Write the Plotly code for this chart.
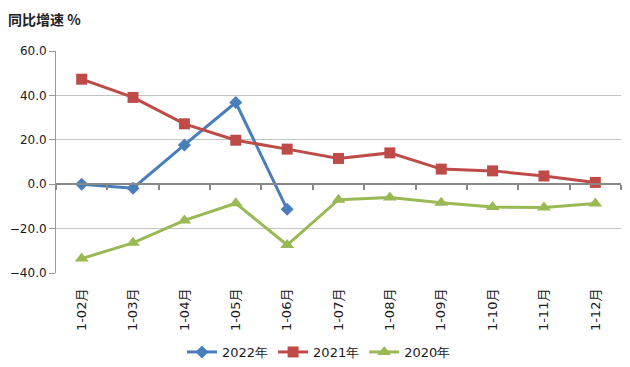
import plotly.graph_objects as go

categories = ["1-02月", "1-03月", "1-04月", "1-05月", "1-06月", "1-07月",
              "1-08月", "1-09月", "1-10月", "1-11月", "1-12月"]
y2022 = [0.0, -1.8, 17.7, 36.8, -11.3]
y2021 = [47.3, 39.1, 27.2, 19.8, 15.8, 11.6, 14.1, 6.8, 6.0, 3.7, 0.8]
y2020 = [-33.5, -26.4, -16.3, -8.6, -27.4, -7.0, -6.0, -8.4, -10.3, -10.5, -8.7]
y_ticks = [-40, -20, 0, 20, 40, 60]

fig = go.Figure()
fig.add_trace(go.Scatter(x=categories[:len(y2022)], y=y2022, name="2022年", mode="lines+markers",
                         line=dict(color="#4A7EBB", width=3),
                         marker=dict(symbol="diamond", size=10, color="#4A7EBB")))
fig.add_trace(go.Scatter(x=categories, y=y2021, name="2021年", mode="lines+markers",
                         line=dict(color="#BE4B48", width=3),
                         marker=dict(symbol="square", size=11, color="#BE4B48")))
fig.add_trace(go.Scatter(x=categories, y=y2020, name="2020年", mode="lines+markers",
                         line=dict(color="#98B954", width=3),
                         marker=dict(symbol="triangle-up", size=12, color="#98B954")))

boundaries = [i - 0.5 for i in range(len(categories) + 1)]

W, H = 622, 359  # page body has an 8px default margin

fig.update_layout(
    width=W, height=H,
    margin=dict(l=48, r=9, t=43, b=94, autoexpand=False),
    paper_bgcolor="white", plot_bgcolor="white",
    font=dict(family="DejaVu Sans, Verdana, sans-serif", color="#1a1a1a", size=12),
    title=dict(text="<b>同比增速 %</b>", xref="container", yref="container",
               x=0, y=1-12/H, xanchor="left", yanchor="middle",
               font=dict(family="Noto Sans CJK SC", size=14, color="#222")),
    xaxis=dict(type="category", range=[-0.5, 10.5], showgrid=False, showline=False,
               ticks="", tickangle=-90, ticklabelstandoff=12, automargin=False,
               tickfont=dict(family="DejaVu Sans, Noto Sans CJK SC", size=13)),
    xaxis2=dict(overlaying="x", anchor="free", position=0.4, range=[-0.5, 10.5],
                tickvals=boundaries, ticks="outside", ticklen=5, tickcolor="#888",
                tickwidth=1.5, showticklabels=False, showgrid=False, automargin=False,
                showline=True, linecolor="#888", linewidth=2, zeroline=False),
    yaxis=dict(range=[-40, 60], tickvals=y_ticks, tickformat=".1f", automargin=False,
               showgrid=True, gridcolor="#c4c4c4", gridwidth=1,
               zeroline=False, showline=True, linecolor="#999", linewidth=1,
               ticks="outside", ticklen=6, tickcolor="#999",
               tickfont=dict(size=12)),
    legend=dict(orientation="h", xref="container", yref="container",
                x=0.5, xanchor="center", y=1-344/H, yanchor="middle",
                font=dict(size=13), itemwidth=30, bgcolor="rgba(0,0,0,0)"),
    showlegend=True,
)
fig.add_trace(go.Scatter(x=[None], y=[None], xaxis="x2", showlegend=False, hoverinfo="skip"))

fig.write_html("out.html")
